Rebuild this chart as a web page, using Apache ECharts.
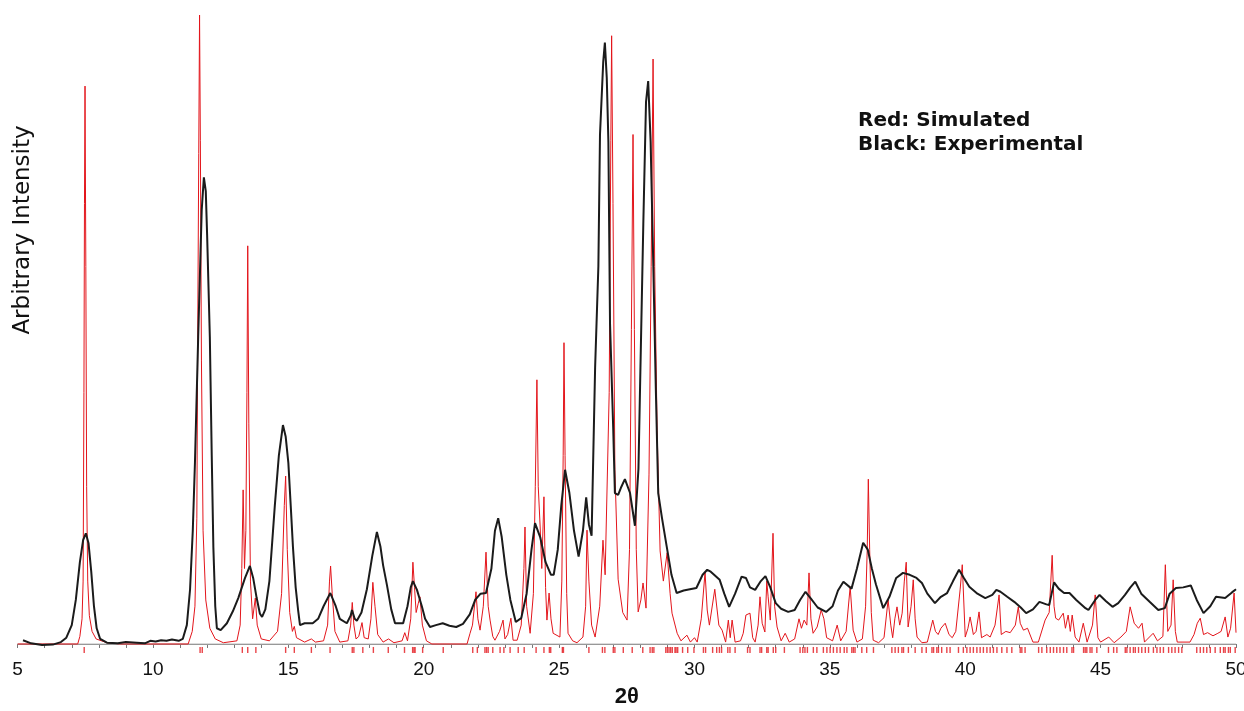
<!DOCTYPE html>
<html>
<head>
<meta charset="utf-8">
<script src="https://cdn.jsdelivr.net/npm/echarts@6.0.0/dist/echarts.min.js"></script>
<style>
html,body{margin:0;padding:0;background:#fff;}
#chart{width:1244px;height:711px;}
</style>
</head>
<body>
<div id="chart"></div>
<script>
// Tick label values of the 2θ axis
var xLabelValues = [5, 10, 15, 20, 25, 30, 35, 40, 45, 50];

// Simulated pattern (red): [2θ, intensity]
var simulated = [[5.0,0],[7.22,0],[7.3,1.2],[7.38,4],[7.42,10],[7.45,40],[7.47,70],[7.49,88.7],[7.52,60],[7.55,25],[7.59,10],[7.65,4.5],[7.75,2],[7.9,0.8],[8.3,0.2],[8.8,0],[11.3,0],[11.45,2],[11.55,6],[11.62,20],[11.66,55],[11.69,78],[11.72,100],[11.75,80],[11.79,45],[11.85,18],[11.95,7],[12.1,2.5],[12.3,0.8],[12.6,0.2],[13.1,0.5],[13.22,3],[13.28,12],[13.33,24.5],[13.38,12],[13.43,18],[13.47,40],[13.5,63.3],[13.54,35],[13.6,10],[13.68,4],[13.78,7.3],[13.85,3],[14.0,0.8],[14.3,0.5],[14.6,2],[14.75,8],[14.85,22],[14.9,26.7],[14.96,15],[15.05,5],[15.15,2],[15.22,2.8],[15.3,1],[15.6,0.3],[15.85,0.8],[16.0,0.3],[16.3,0.5],[16.45,3],[16.52,10],[16.56,12.4],[16.62,8],[16.72,2],[16.9,0.3],[17.2,0.5],[17.3,3],[17.36,6.6],[17.42,3],[17.5,0.8],[17.6,1.2],[17.72,3.4],[17.8,1],[17.95,0.8],[18.05,4],[18.12,9.8],[18.2,6],[18.3,1.5],[18.5,0.3],[18.7,0.8],[18.9,0.2],[19.2,0.5],[19.3,1.8],[19.4,0.5],[19.52,4],[19.6,13],[19.66,9],[19.72,5],[19.8,6.5],[19.86,7.5],[19.95,3],[20.1,0.5],[20.3,0],[21.6,0],[21.71,1.7],[21.8,3],[21.93,8.3],[22.0,4],[22.08,2.2],[22.2,6],[22.3,14.6],[22.38,6],[22.45,3.8],[22.55,1.2],[22.63,0.6],[22.8,2],[22.93,3.8],[23.0,0.8],[23.1,1.5],[23.22,4.1],[23.3,0.6],[23.45,0.6],[23.6,3],[23.7,12],[23.74,18.6],[23.8,6],[23.93,1.7],[24.05,8],[24.12,25],[24.18,42],[24.23,25],[24.3,18.6],[24.36,12],[24.44,23.4],[24.5,9],[24.55,3.8],[24.63,8.1],[24.7,4],[24.78,1.7],[25.03,1.1],[25.1,10],[25.15,30],[25.18,47.9],[25.22,30],[25.28,8],[25.33,1.7],[25.5,0.5],[25.66,0.2],[25.88,1.1],[25.98,6],[26.03,18.1],[26.1,10],[26.2,3],[26.33,1.1],[26.5,6],[26.62,16.5],[26.7,11],[26.77,11],[26.85,40],[26.91,80],[26.94,96.7],[26.99,70],[27.06,27.8],[27.18,10.3],[27.35,5],[27.51,3.8],[27.6,15],[27.67,50],[27.73,81],[27.78,50],[27.85,15],[27.92,5.1],[28.02,7],[28.1,9.7],[28.21,5.7],[28.32,27],[28.4,60],[28.47,93],[28.53,60],[28.62,34],[28.73,14.8],[28.85,10],[28.99,14.5],[29.1,8],[29.17,4.9],[29.36,1.7],[29.5,0.5],[29.72,1.4],[29.85,0.3],[30.0,1.0],[30.1,0.3],[30.25,4],[30.39,11.4],[30.47,5.4],[30.55,3],[30.75,8.7],[30.9,3],[31.02,2.2],[31.15,0.3],[31.25,3.8],[31.32,1],[31.39,3.8],[31.5,0.3],[31.7,0.5],[31.8,1.7],[31.9,4.6],[32.05,4.9],[32.15,1],[32.24,0.3],[32.35,3],[32.42,7.5],[32.5,3.3],[32.6,1.9],[32.67,10],[32.72,7.5],[32.8,3.8],[32.9,17.6],[32.96,6],[33.05,2.7],[33.2,0.5],[33.35,1.7],[33.5,0.3],[33.7,0.8],[33.86,4],[33.95,2.5],[34.05,3.8],[34.15,3],[34.23,11.3],[34.3,4],[34.38,1.7],[34.53,2.7],[34.68,5.4],[34.78,4],[34.88,1],[35.1,0.5],[35.27,3],[35.4,0.5],[35.6,2],[35.75,9.1],[35.86,2.2],[36.0,0.3],[36.2,0.8],[36.32,6],[36.38,15],[36.42,26.2],[36.47,15],[36.53,5],[36.6,0.6],[36.8,0.2],[37.0,1],[37.15,7],[37.25,3],[37.32,1],[37.4,4],[37.48,5.9],[37.58,3],[37.67,4.9],[37.75,10],[37.82,13],[37.89,2.7],[38.0,6],[38.08,10.2],[38.15,4],[38.22,1.1],[38.4,0.2],[38.6,0.3],[38.8,3.8],[38.9,2],[39.0,1.5],[39.1,2.5],[39.26,3.3],[39.4,1.5],[39.52,1.0],[39.65,2],[39.81,8.6],[39.89,12.6],[40.0,1.1],[40.1,2.5],[40.18,4.3],[40.3,1.5],[40.4,2],[40.51,5.1],[40.6,1],[40.8,1.5],[40.92,1.1],[41.1,3],[41.25,7.8],[41.33,1.5],[41.5,2],[41.66,1.8],[41.85,3],[41.96,5.9],[42.03,3.3],[42.15,2.2],[42.3,2.5],[42.5,0.3],[42.7,0.3],[42.95,3.8],[43.1,5],[43.21,14.1],[43.28,6],[43.34,4.1],[43.45,3.8],[43.62,4.9],[43.7,2.5],[43.8,4.6],[43.88,2],[43.95,4.6],[44.06,1.1],[44.2,0.3],[44.36,3.3],[44.5,0.3],[44.7,3],[44.8,7.8],[44.9,1],[45.0,0.3],[45.3,1.1],[45.5,0.2],[45.75,1.1],[45.95,2],[46.09,5.9],[46.24,3.3],[46.4,2.5],[46.53,3.3],[46.62,0.3],[46.94,1.7],[47.1,0.5],[47.3,1.2],[47.39,12.6],[47.48,2],[47.6,3],[47.68,10.2],[47.76,2],[47.83,0.3],[48.3,0.3],[48.45,1.5],[48.57,3.3],[48.68,4.1],[48.8,1.5],[48.95,1.8],[49.15,1.3],[49.33,1.7],[49.45,2],[49.6,4.3],[49.7,1.1],[49.8,2.5],[49.93,8.1],[50.0,1.8]];

// Experimental pattern (black): [2θ, intensity]
var experimental = [[5.2,0.6],[5.5,0.1],[5.9,-0.15],[6.3,-0.1],[6.6,0.3],[6.8,1.0],[7.0,3.0],[7.15,7],[7.3,13],[7.42,16.5],[7.52,17.6],[7.62,16],[7.72,11.5],[7.82,6],[7.92,2.5],[8.05,0.8],[8.3,0.2],[8.7,0.1],[9.0,0.3],[9.4,0.2],[9.7,0.1],[9.9,0.5],[10.1,0.4],[10.3,0.6],[10.5,0.5],[10.7,0.7],[10.95,0.5],[11.1,0.8],[11.25,3],[11.37,8.7],[11.47,18],[11.55,28.8],[11.67,48.8],[11.8,69],[11.88,74.2],[11.95,72],[12.0,65],[12.1,48.8],[12.17,30],[12.23,15.4],[12.3,6],[12.36,2.5],[12.5,2.2],[12.73,3.3],[12.95,5.2],[13.15,7.3],[13.4,10.5],[13.58,12.4],[13.7,10.5],[13.83,7.3],[13.95,4.8],[14.03,4.3],[14.15,5.5],[14.3,10],[14.5,22],[14.65,30],[14.8,34.8],[14.9,33],[15.0,28.8],[15.1,21],[15.17,15.4],[15.27,9],[15.36,5.4],[15.43,3],[15.6,3.3],[15.9,3.3],[16.1,4],[16.3,6],[16.55,8.1],[16.75,6],[16.9,4],[17.16,3.3],[17.3,4.5],[17.35,5.4],[17.45,4],[17.53,3.7],[17.7,5],[17.9,8.7],[18.1,14],[18.27,17.8],[18.4,15.5],[18.5,12.5],[18.64,9.4],[18.8,5.5],[18.94,3.3],[19.24,3.3],[19.4,6],[19.52,9],[19.6,10],[19.75,8.6],[19.93,6.0],[20.05,4],[20.23,2.7],[20.45,3],[20.7,3.3],[20.95,2.9],[21.2,2.7],[21.45,3.2],[21.7,4.7],[21.9,7.0],[22.1,8.0],[22.3,8.1],[22.5,12],[22.63,18],[22.75,20],[22.88,17],[23.05,11],[23.2,7.0],[23.4,3.5],[23.6,4.1],[23.8,8],[23.98,15],[24.11,19.2],[24.3,17],[24.5,13],[24.7,11],[24.8,11],[24.95,15],[25.08,22],[25.22,27.7],[25.38,24],[25.55,18],[25.72,13.9],[25.88,18],[26.0,23.3],[26.1,19],[26.2,17.2],[26.33,44],[26.45,60],[26.51,81],[26.63,92.6],[26.69,95.6],[26.76,90],[26.82,79.8],[26.88,51],[27.0,34],[27.06,24],[27.18,23.7],[27.3,25],[27.43,26.2],[27.62,24],[27.8,18.8],[27.93,27.8],[27.99,40.9],[28.11,66.8],[28.21,86.2],[28.29,89.5],[28.38,79.8],[28.48,60],[28.57,40.9],[28.66,24],[28.8,20],[28.97,15.6],[29.15,11],[29.34,8.1],[29.6,8.5],[29.83,8.7],[30.07,8.9],[30.3,11],[30.47,11.8],[30.6,11.5],[30.93,10.2],[31.1,8],[31.28,5.9],[31.5,8],[31.74,10.7],[31.9,10.5],[32.05,9],[32.24,8.6],[32.45,10],[32.62,10.8],[32.8,9],[33.0,6.5],[33.2,5.6],[33.46,5.1],[33.7,5.4],[33.9,7],[34.1,8.3],[34.3,7.2],[34.55,5.8],[34.86,5.1],[35.1,6],[35.3,8.5],[35.5,9.9],[35.8,8.8],[36.0,12],[36.23,16.1],[36.4,15],[36.55,12],[36.7,9.5],[36.97,5.7],[37.2,7.5],[37.45,10.5],[37.7,11.3],[37.95,11],[38.2,10.5],[38.4,9.7],[38.6,8],[38.88,6.5],[39.1,7.5],[39.33,8.1],[39.55,10],[39.77,11.8],[39.95,10.5],[40.15,9.1],[40.45,8.0],[40.74,7.3],[41.0,7.8],[41.15,8.6],[41.3,8.3],[41.55,7.5],[41.81,6.7],[42.05,5.8],[42.25,4.9],[42.5,5.5],[42.74,6.7],[43.0,6.3],[43.1,6.2],[43.28,9.8],[43.45,8.8],[43.65,8.1],[43.85,8.1],[44.1,7],[44.44,5.7],[44.55,5.4],[44.8,7],[44.96,7.8],[45.2,6.8],[45.44,5.9],[45.65,6.5],[45.9,7.8],[46.1,9],[46.28,9.9],[46.5,8],[46.81,6.7],[47.13,5.4],[47.37,5.7],[47.55,8],[47.78,8.9],[48.05,9],[48.33,9.3],[48.55,7],[48.8,4.9],[49.05,6],[49.26,7.5],[49.6,7.3],[49.85,8.2],[50.0,8.7]];

// Calculated reflection positions (red tick marks), 2θ
var reflections = [7.46,11.74,11.82,13.3,13.5,13.8,14.9,15.22,15.85,16.54,17.36,17.42,17.75,18.14,18.69,19.29,19.59,19.64,19.68,19.96,20.72,21.81,21.98,22.26,22.32,22.38,22.55,22.82,22.96,23.19,23.49,23.71,24.15,24.44,24.64,24.69,25.12,25.16,26.1,26.6,26.69,27.0,27.06,27.37,27.7,28.09,28.36,28.44,28.5,28.94,29.0,29.06,29.12,29.18,29.28,29.32,29.38,29.56,29.75,29.98,30.33,30.41,30.67,30.82,30.92,31.0,31.23,31.31,31.5,31.96,32.05,32.42,32.48,32.67,32.72,32.91,33.0,33.32,33.9,34.0,34.08,34.17,34.39,34.52,34.76,34.89,35.01,35.13,35.26,35.38,35.53,35.63,35.81,35.87,35.93,36.18,36.36,36.61,37.29,37.41,37.53,37.66,37.72,37.9,38.15,38.4,38.56,38.77,38.83,38.95,39.01,39.13,39.32,39.44,39.75,39.93,40.06,40.18,40.3,40.43,40.55,40.67,40.8,40.92,41.04,41.17,41.35,41.54,41.72,42.03,42.09,42.21,42.71,42.83,43.01,43.14,43.26,43.38,43.5,43.63,43.75,43.94,44.0,44.37,44.43,44.49,44.61,44.68,44.86,45.29,45.48,45.6,45.91,45.97,46.09,46.21,46.28,46.4,46.52,46.65,46.77,46.95,47.08,47.2,47.32,47.51,47.63,47.75,47.88,48.0,48.55,48.68,48.8,48.92,49.05,49.23,49.42,49.54,49.6,49.72,49.79,49.97];

var legendLines = ['Red: Simulated', 'Black: Experimental'];
var yAxisTitle = 'Arbitrary Intensity';
var xAxisTitle = '2θ';

var chart = echarts.init(document.getElementById('chart'), null, {renderer: 'canvas'});
var RED = '#e3151b';
var option = {
  animation: false,
  backgroundColor: '#ffffff',
  grid: {left: 17.6, right: 8, top: 15, bottom: 54, containLabel: false, outerBoundsMode: 'none'},
  xAxis: {
    type: 'value', min: 5, max: 50, interval: 1,
    name: xAxisTitle, nameLocation: 'middle', nameGap: 29,
    nameTextStyle: {fontFamily: 'Liberation Sans', fontSize: 22, fontWeight: 'bold', color: '#111'},
    axisLine: {show: true, lineStyle: {color: '#777', width: 1}},
    axisTick: {show: true, inside: false, length: 4, lineStyle: {color: '#777'}},
    axisLabel: {
      show: true, margin: 3, fontFamily: 'Liberation Sans', fontSize: 19, color: '#111',
      formatter: function (v) { return xLabelValues.indexOf(v) >= 0 ? String(v) : ''; }
    },
    splitLine: {show: false}
  },
  yAxis: {type: 'value', min: -2.07, max: 100, show: false, splitLine: {show: false}},
  graphic: [
    {type: 'text', x: 858, y: 120.5, style: {text: legendLines[0], fontFamily: 'DejaVu Sans', fontWeight: 'bold', fontSize: 20, fill: '#111', textVerticalAlign: 'middle'}},
    {type: 'text', x: 858, y: 144.5, style: {text: legendLines[1], fontFamily: 'DejaVu Sans', fontWeight: 'bold', fontSize: 20, fill: '#111', textVerticalAlign: 'middle'}},
    {type: 'text', x: 23, y: 230, rotation: Math.PI / 2, style: {text: yAxisTitle, fontFamily: 'DejaVu Sans', fontSize: 23, fill: '#111', textAlign: 'center', textVerticalAlign: 'middle'}}
  ],
  series: [
    {type: 'line', data: [[5, 0], [50, 0]], symbol: 'none', silent: true, z: 1,
     lineStyle: {color: '#bdbdbd', width: 1}},
    {type: 'line', data: simulated, symbol: 'none', silent: true, z: 2,
     lineStyle: {color: RED, width: 1}},
    {type: 'line', data: experimental, symbol: 'none', silent: true, z: 3,
     lineStyle: {color: '#1b1b1b', width: 2}},
    {type: 'scatter', data: reflections.map(function (x) { return [x, -0.95]; }), symbol: 'rect',
     symbolSize: [1.4, 6], silent: true, z: 2, itemStyle: {color: RED}}
  ]
};
chart.setOption(option);
</script>
</body>
</html>
